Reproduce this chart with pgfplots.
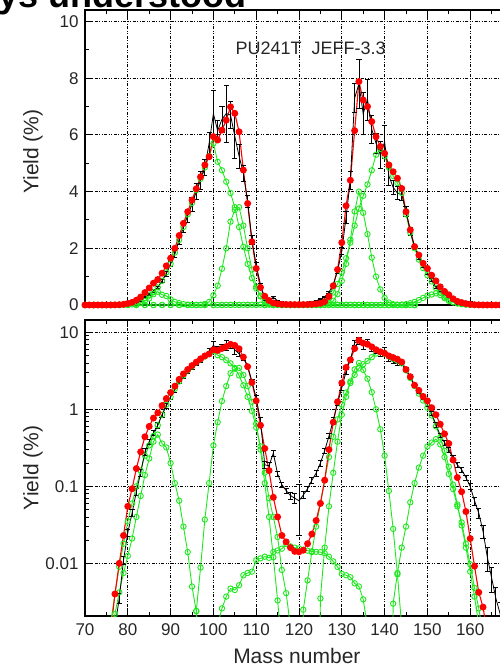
\documentclass[border=0pt]{standalone}
\usepackage{fontspec}
\setmainfont{Liberation Sans}
\usepackage{pgfplots}
\pgfplotsset{compat=1.18}
\usepackage{pgfplotstable}
\definecolor{grn}{RGB}{30,232,30}
\definecolor{jred}{RGB}{255,0,0}

\pgfplotstableread{
A v
70 1e-5
71 2e-5
72 4e-5
73 8e-5
74 1.6e-4
75 4e-4
76 0.0013
77 0.004
78 0.010
79 0.023
80 0.055
81 0.093
82 0.17
83 0.28
84 0.44
85 0.60
86 0.77
87 0.90
88 1.12
89 1.38
90 1.65
91 2.00
92 2.45
93 2.88
94 3.29
95 3.70
96 4.10
97 4.52
98 4.94
99 5.23
100 5.94
101 5.82
102 6.17
103 6.52
104 6.99
105 6.76
106 6.11
107 4.76
108 3.58
109 2.23
110 1.29
111 0.62
112 0.31
113 0.16
114 0.072
115 0.040
116 0.023
117 0.019
118 0.016
119 0.0143
120 0.0141
121 0.0148
122 0.018
123 0.024
124 0.036
125 0.060
126 0.12
127 0.30
128 0.68
129 1.25
130 2.20
131 3.50
132 4.40
133 6.15
134 7.88
135 7.23
136 7.00
137 6.47
138 5.94
139 5.59
140 5.35
141 4.94
142 4.70
143 4.47
144 4.11
145 3.29
146 2.65
147 2.06
148 1.76
149 1.47
150 1.29
151 1.05
152 0.85
153 0.64
154 0.48
155 0.36
156 0.22
157 0.13
158 0.085
159 0.047
160 0.021
161 0.0092
162 0.0042
163 0.0027
164 0.0012
165 5e-4
166 2e-4
167 1e-4
168 5e-5
169 2e-5
170 1e-5
}\tabred

\pgfplotstableread{
A v e
70 1e-5 0.05
71 2e-5 0.05
72 4e-5 0.05
73 8e-5 0.05
74 1.6e-4 0.05
75 3e-4 0.1
76 7e-4 0.2
77 0.0015 0.2
78 0.0035 0.15
79 0.011 0.12
80 0.025 0.1
81 0.045 0.1
82 0.085 0.1
83 0.15 0.1
84 0.28 0.1
85 0.38 0.08
86 0.50 0.08
87 0.62 0.08
88 0.85 0.08
89 1.10 0.07
90 1.45 0.07
91 1.80 0.07
92 2.30 0.07
93 2.75 0.07
94 3.15 0.07
95 3.55 0.07
96 4.00 0.07
97 4.40 0.07
98 4.85 0.06
99 5.70 0.07
100 6.75 0.12
101 6.15 0.06
102 6.55 0.07
103 6.75 0.15
104 6.70 0.07
105 5.95 0.13
106 5.25 0.08
107 4.65 0.06
108 3.65 0.06
109 2.30 0.07
110 1.40 0.07
111 0.72 0.08
112 0.19 0.1
113 0.185 0.1
114 0.27 0.1
115 0.145 0.08
116 0.105 0.08
117 0.088 0.08
118 0.076 0.1
119 0.07 0.15
120 0.065 0.65
121 0.077 0.1
122 0.093 0.08
123 0.12 0.08
124 0.148 0.08
125 0.20 0.08
126 0.29 0.08
127 0.45 0.08
128 0.72 0.08
129 1.20 0.07
130 1.90 0.07
131 3.10 0.07
132 4.40 0.07
133 7.30 0.07
134 7.80 0.11
135 6.75 0.11
136 7.25 0.10
137 6.20 0.08
138 5.70 0.06
139 5.30 0.09
140 5.75 0.10
141 4.55 0.07
142 4.15 0.06
143 3.95 0.06
144 3.90 0.05
145 3.30 0.05
146 2.60 0.05
147 2.05 0.05
148 1.70 0.05
149 1.40 0.05
150 1.15 0.06
151 0.88 0.06
152 0.63 0.07
153 0.46 0.07
154 0.37 0.07
155 0.30 0.08
156 0.23 0.08
157 0.19 0.08
158 0.165 0.08
159 0.13 0.08
160 0.10 0.1
161 0.065 0.12
162 0.045 0.15
163 0.026 0.2
164 0.012 0.35
165 0.0065 0.35
166 0.0035 0.4
167 0.0022 0.4
168 0.001 0.3
169 2e-4 0.1
170 5e-5 0.1
}\tabblack

% light-mass S3-like component (peak near 87)
\pgfplotstableread{
A v
70 1e-7
71 1e-7
72 1e-7
73 1e-7
74 1e-7
75 1e-7
76 0.0008
77 0.0022
78 0.0042
79 0.0075
80 0.0125
81 0.021
82 0.040
83 0.075
84 0.14
85 0.23
86 0.38
87 0.47
88 0.36
89 0.32
90 0.20
91 0.11
92 0.065
93 0.030
94 0.014
95 0.005
96 0.0024
97 0.0007
98 1e-7
100 1e-7
102 1e-7
104 1e-7
106 1e-7
108 1e-7
110 1e-7
112 1e-7
114 1e-7
116 1e-7
118 1e-7
120 1e-7
122 1e-7
124 1e-7
126 1e-7
128 1e-7
130 1e-7
132 1e-7
134 1e-7
136 1e-7
138 1e-7
140 1e-7
142 1e-7
144 1e-7
146 1e-7
}\tabgA

% light-mass broad component (peak near 100)
\pgfplotstableread{
A v
70 1e-7
71 1e-7
72 1e-7
73 1e-7
74 1e-7
75 1e-7
76 0.0017
77 0.004
78 0.009
79 0.018
80 0.035
81 0.060
82 0.10
83 0.16
84 0.25
85 0.34
86 0.45
87 0.62
88 0.85
89 1.15
90 1.45
91 1.85
92 2.30
93 2.75
94 3.20
95 3.60
96 4.05
97 4.45
98 4.85
99 5.25
100 5.70
101 5.05
102 4.75
103 4.35
104 3.95
105 3.45
106 2.75
107 2.05
108 1.45
109 0.95
110 0.58
111 0.33
112 0.15
113 0.070
114 0.040
115 0.022
116 0.0082
117 0.0041
118 0.0015
119 1e-7
121 1e-7
123 1e-7
125 1e-7
127 1e-7
129 1e-7
131 1e-7
133 1e-7
135 1e-7
137 1e-7
139 1e-7
141 1e-7
143 1e-7
145 1e-7
147 1e-7
}\tabgB

% light-mass narrow component (peak near 105)
\pgfplotstableread{
A v
70 1e-7
72 1e-7
74 1e-7
76 1e-7
78 1e-7
80 1e-7
82 1e-7
84 1e-7
86 1e-7
88 1e-7
90 1e-7
92 1e-7
94 1e-7
95 1e-7
96 0.0024
97 0.0088
98 0.037
99 0.11
100 0.34
101 0.68
102 1.28
103 2.00
104 2.94
105 3.35
106 3.45
107 2.80
108 2.00
109 1.25
110 0.65
111 0.30
112 0.11
113 0.040
114 0.012
115 0.0033
116 0.0008
117 1e-7
119 1e-7
121 1e-7
123 1e-7
125 1e-7
127 1e-7
129 1e-7
131 1e-7
133 1e-7
135 1e-7
137 1e-7
139 1e-7
141 1e-7
143 1e-7
145 1e-7
147 1e-7
}\tabgC

% symmetric component
\pgfplotstableread{
A v
70 1e-7
72 1e-7
74 1e-7
76 1e-7
78 1e-7
80 1e-7
82 1e-7
84 1e-7
86 1e-7
88 1e-7
90 1e-7
92 1e-7
94 1e-7
96 1e-7
98 1e-7
100 1e-7
101 0.0016
102 0.0026
103 0.0037
104 0.0047
105 0.0045
106 0.0052
107 0.0070
108 0.0075
109 0.0078
110 0.0110
111 0.0116
112 0.0122
113 0.0118
114 0.0140
115 0.0147
116 0.0155
117 0.0178
118 0.0166
119 0.0160
120 0.0156
121 0.0150
122 0.0146
123 0.0143
124 0.0141
125 0.0140
126 0.0135
127 0.0122
128 0.0106
129 0.0090
130 0.0073
131 0.0070
132 0.0066
133 0.0055
134 0.0050
135 0.0034
136 0.0015
137 1e-7
139 1e-7
141 1e-7
143 1e-7
145 1e-7
147 1e-7
}\tabgS

% heavy-mass narrow component (peak near 134)
\pgfplotstableread{
A v
112 1e-7
114 1e-7
116 1e-7
118 1e-7
120 1e-7
122 1e-7
124 1e-7
125 0.0035
126 0.016
127 0.055
128 0.15
129 0.38
130 0.85
131 1.45
132 2.30
133 3.30
134 4.00
135 3.25
136 2.50
137 1.67
138 1.00
139 0.55
140 0.25
141 0.087
142 0.028
143 0.0072
144 0.0015
145 1e-7
147 1e-7
}\tabgD

% heavy-mass broad component (peak near 139)
\pgfplotstableread{
A v
112 1e-7
114 1e-7
116 1e-7
118 1e-7
120 1e-7
121 0.0025
122 0.006
123 0.014
124 0.030
125 0.060
126 0.12
127 0.24
128 0.44
129 0.74
130 1.15
131 1.65
132 2.20
133 2.80
134 3.40
135 3.85
136 4.25
137 4.75
138 5.30
139 5.50
140 5.25
141 4.85
142 4.55
143 4.30
144 3.95
145 3.20
146 2.55
147 2.00
148 1.60
149 1.30
150 1.05
151 0.83
152 0.60
153 0.43
154 0.29
155 0.18
156 0.105
157 0.058
158 0.031
159 0.016
160 0.0078
161 0.0037
162 0.0016
163 1e-7
}\tabgE

% heavy-mass small component (peak near 152)
\pgfplotstableread{
A v
134 1e-7
136 1e-7
138 1e-7
140 1e-7
141 1e-7
142 0.003
143 0.0075
144 0.016
145 0.030
146 0.062
147 0.11
148 0.175
149 0.25
150 0.33
151 0.37
152 0.41
153 0.35
154 0.24
155 0.145
156 0.092
157 0.055
158 0.034
159 0.018
160 0.0097
161 0.0048
162 0.0026
163 0.0012
164 1e-7
}\tabgF

\pgfplotsset{
  myaxis/.style={
    scale only axis, width=428pt,
    xmin=70, xmax=170,
    xtick={70,80,...,170}, minor x tick num=1,
    tick align=inside, major tick length=7pt, minor tick length=4pt,
    grid=major,
    major grid style={black, line width=0.8pt, dash pattern=on 3pt off 1.5pt on 1pt off 1.5pt on 1pt off 1.5pt},
    axis line style={line width=1.2pt},
    every tick/.style={black, line width=0.9pt},
    tick label style={font=\fontsize{17}{17}\selectfont, color=black!85},
    /pgf/number format/assume math mode=true,
    label style={font=\fontsize{21}{21}\selectfont, color=black!85},
    yticklabel style={xshift=-3pt},
    xticklabel style={yshift=-4pt},
  },
  gr/.style={color=grn, line width=0.9pt, mark=o, mark size=2.7pt, mark options={line width=0.9pt}},
  rd/.style={color=jred, line width=1.1pt, mark=*, mark size=2.9pt, mark options={fill=jred}},
  bk/.style={black, line width=0.8pt, mark=none,
    error bars/.cd, y dir=both, y explicit relative,
    error bar style={line width=0.8pt},
    error mark options={rotate=90, mark size=2.6pt, line width=0.8pt, black}},
}

\begin{document}
\begin{tikzpicture}[x=1pt,y=1pt]
% upper panel: linear
\begin{axis}[myaxis,
  at={(85pt,366pt)}, anchor=south west,
  height=295pt,
  ymin=0, ymax=10.406,
  ytick={0,2,...,10}, minor y tick num=1,
  xticklabels={},
  clip=false,
  ylabel={Yield (\%)},
  ylabel style={at={(axis description cs:-0.1215,0.52)}, anchor=center},
]
\addplot[gr] table[x=A,y=v] {\tabgA};
\addplot[gr] table[x=A,y=v] {\tabgB};
\addplot[gr] table[x=A,y=v] {\tabgC};
\addplot[gr] table[x=A,y=v] {\tabgS};
\addplot[gr] table[x=A,y=v] {\tabgD};
\addplot[gr] table[x=A,y=v] {\tabgE};
\addplot[gr] table[x=A,y=v] {\tabgF};
\addplot[rd] table[x=A,y=v] {\tabred};
\addplot[bk] table[x=A,y=v,y error=e] {\tabblack};
\node[anchor=base west, font=\fontsize{18}{18}\selectfont, color=black!85] at (axis cs:70,0) [xshift=147pt, yshift=250pt] {PU241T\ \ JEFF-3.3};
\end{axis}
% lower panel: logarithmic
\begin{axis}[myaxis,
  at={(85pt,55pt)}, anchor=south west,
  height=296pt,
  ymode=log,
  ymin=0.00207, ymax=14.45,
  ytick={0.01,0.1,1,10},
  yticklabels={0.01,0.1,1,10},
  xticklabels={70,80,90,100,110,120,130,140,150,160,{}},
  xlabel={Mass number},
  xlabel style={at={(axis description cs:0.495,-0.135)}, anchor=center},
  ylabel={Yield (\%)},
  ylabel style={at={(axis description cs:-0.1215,0.5)}, anchor=center},
]
\addplot[gr] table[x=A,y=v] {\tabgA};
\addplot[gr] table[x=A,y=v] {\tabgB};
\addplot[gr] table[x=A,y=v] {\tabgC};
\addplot[gr] table[x=A,y=v] {\tabgS};
\addplot[gr] table[x=A,y=v] {\tabgD};
\addplot[gr] table[x=A,y=v] {\tabgE};
\addplot[gr] table[x=A,y=v] {\tabgF};
\addplot[rd] table[x=A,y=v] {\tabred};
\addplot[bk] table[x=A,y=v,y error=e] {\tabblack};
\end{axis}
\node[anchor=base east, font=\fontsize{36}{36}\bfseries\selectfont] at (250pt,663pt) {ys understood};
\pgfresetboundingbox
\useasboundingbox (0pt,0pt) rectangle (499pt,671pt);
\end{tikzpicture}
\end{document}
